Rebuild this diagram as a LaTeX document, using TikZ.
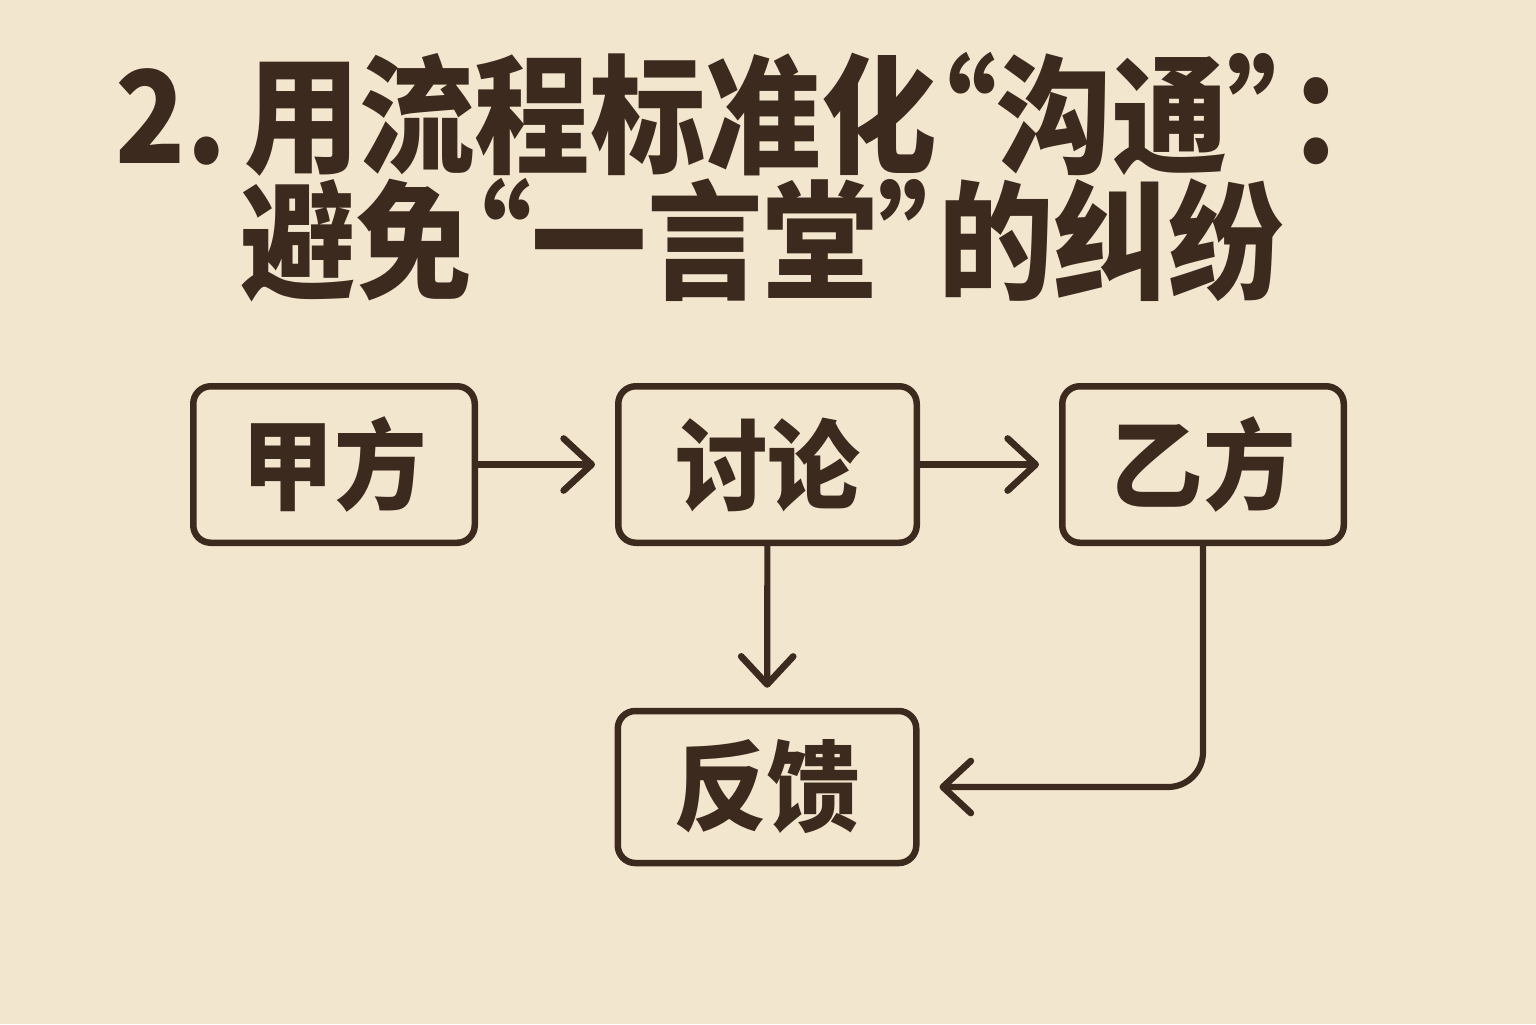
\documentclass[tikz,border=0pt]{standalone}
\usepackage{fontspec}
\usepackage{xcolor}
\usetikzlibrary{arrows.meta}
\newfontfamily\cjk{Noto Sans CJK SC}[FakeStretch=0.9]
\newfontfamily\cjkbox{Noto Sans CJK SC}[FakeStretch=0.94]
\newcommand\oq{\makebox[0.6cm][r]{“}}
\newcommand\cq{\makebox[0.6cm][l]{”}}
\definecolor{paper}{HTML}{F3E6CE}
\definecolor{ink}{HTML}{3D2A1E}

\begin{document}
\begin{tikzpicture}[
        box/.style={draw=ink, line width=1.85pt, rounded corners=5pt, minimum width=2.815cm, minimum height=1.565cm, font=\cjkbox\bfseries\fontsize{28}{28}\selectfont, text=ink},
        wide/.style={box, minimum width=2.985cm},
        title/.style={anchor=base west, inner sep=0pt, font=\cjk\bfseries\fontsize{36.5}{36.5}\selectfont, text=ink},
        link/.style={draw=ink, line width=1.75pt, line cap=round, shorten >=0.2cm, -{Straight Barb[length=0.28cm, width=0.52cm, line width=1.9pt, round]}}]
        \useasboundingbox[fill=paper] (0,0) rectangle (15.36,-10.24);
        \node[title](t1) at (1.15,-1.63) {2.\hspace{5pt}用流程标准化\oq 沟通\cq\hspace{0pt}：};
        \node[title](t2) at (2.40,-2.89) {避免\oq 一言堂\cq 的纠纷};
        \node[box](a) at (3.34,-4.645) {甲方};
        \node[wide](b) at (7.675,-4.645) {讨论};
        \node[box](c) at (12.03,-4.645) {乙方};
        \node[wide, minimum height=1.52cm](d) at (7.67,-7.87) {反馈};
        \draw[link](a)--(b);
        \draw[link](b)--(c);
        \draw[link](b)--(d);
        \draw[link, rounded corners=0.35cm](c.south)|-(d.east);
        \end{tikzpicture}
\end{document}
